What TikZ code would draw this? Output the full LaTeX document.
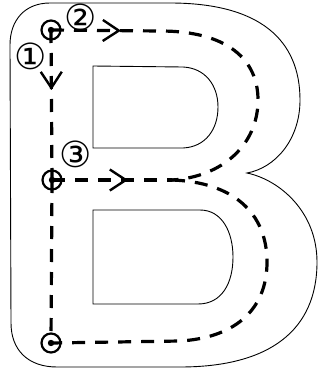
\documentclass[tikz,border=0pt]{standalone}
\usepackage{fontspec}
\newfontfamily\symfont{DejaVu Sans}
\usetikzlibrary{arrows.meta,decorations.markings}
\tikzset{
  outline/.style={draw=black, line width=0.9pt},
  route/.style={line width=3.2pt, dash pattern=on 13pt off 10pt},
  stop/.style={circle, draw, line width=2.2pt, minimum size=19pt, inner sep=0pt},
  lbl/.style={font=\symfont\fontsize{36}{36}\selectfont, inner sep=0pt},
  vtip/.style={decoration={markings, mark=at position #1 with {\arrow{Straight Barb[length=16pt, width=21pt, line width=2.4pt]}}}, postaction={decorate}}
}
\begin{document}
\begin{tikzpicture}[x=1pt,y=-1pt]
\useasboundingbox (0,0) rectangle (325,372);
% outer outline of the letter B
\draw[outline] (50,3) -- (170,3)
  .. controls (260,3) and (300,40) .. (300,100)
  .. controls (300,140) and (275,168) .. (247,173)
  .. controls (280,180) and (317,212) .. (317,262)
  .. controls (317,330) and (270,367) .. (180,367)
  -- (57,367) .. controls (28,367) and (11,350) .. (11,323)
  -- (10,45) .. controls (10,20) and (25,3) .. (50,3) -- cycle;
% upper counter
\draw[outline] (93,66) -- (183,67)
  .. controls (205,68) and (218,85) .. (218,107)
  .. controls (218,130) and (205,147) .. (183,148)
  -- (93,148) -- cycle;
% lower counter
\draw[outline] (93,210) -- (200,210)
  .. controls (222,210) and (233,232) .. (233,257)
  .. controls (233,283) and (222,304) .. (198,304)
  -- (93,304) -- cycle;
% stops
\node[stop] (c1) at (51,30) {};
\node[stop] (c2) at (52,180) {};
\node[stop] (c3) at (51,343) {};
\coordinate (J) at (172,180);
% routes
\draw[route, vtip=60pt] (c1.center) -- (c2.center);
\draw[route] (c2.center) -- (c3.center);
\draw[route, vtip=70pt] (c1.center) -- (160,31)
  .. controls (228,31) and (258,60) .. (258,100)
  .. controls (258,145) and (222,177) .. (J);
\draw[route, vtip=76pt] (c2.center) -- (J);
\draw[route] (J) .. controls (232,182) and (267,212) .. (267,262)
  .. controls (267,312) and (232,338) .. (180,341) -- (c3.center);
% centre dots
\fill (c1.center) circle (3.2pt);
\fill (c2.center) circle (3.2pt);
\fill (c3.center) circle (3.2pt);
% labels
\node[lbl] (n1) at (31,56) {①};
\node[lbl] (n2) at (81,17) {②};
\node[lbl] (n3) at (76,154) {③};
\end{tikzpicture}
\end{document}
